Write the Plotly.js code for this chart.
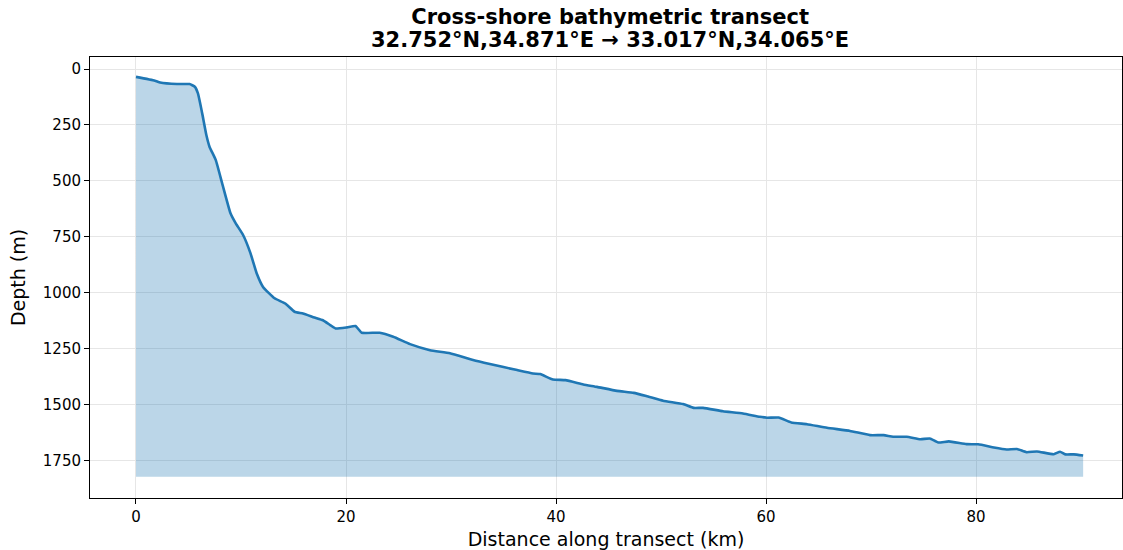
<!DOCTYPE html>
<html>
<head>
<meta charset="utf-8">
<script src="https://cdn.plot.ly/plotly-3.0.1.min.js"></script>
<style>html,body{margin:0;padding:0;background:#fff;}#chart{width:1123px;height:550px;}</style>
</head>
<body>
<div id="chart"></div>
<script>
const distanceKm = [0, 1.8, 2.3, 3.9, 5.1, 5.6, 5.9, 6.3, 6.7, 7.0, 7.6, 8.2, 9.0, 9.5, 10.2, 10.9, 11.5, 12.1, 13.2, 14.2, 15.1, 15.9, 17.0, 17.8, 18.5, 19.0, 20.1, 20.9, 21.5, 23.2, 24.5, 26.1, 28.0, 29.9, 32.1, 33.7, 36.3, 37.8, 38.5, 39.7, 40.9, 42.6, 43.9, 45.8, 47.4, 48.6, 50.2, 52.1, 53.1, 54.0, 55.9, 57.8, 59.4, 60.1, 61.2, 62.4, 63.9, 65.8, 68.0, 69.9, 71.2, 72.1, 73.4, 74.7, 75.6, 76.4, 77.4, 79.1, 80.2, 81.7, 82.9, 83.9, 84.8, 85.8, 87.4, 88.0, 88.5, 89.3, 90.2];
const depthM = [35, 52, 60, 67, 67, 79, 109, 197, 295, 347, 407, 510, 645, 690, 742, 823, 914, 974, 1025, 1048, 1085, 1093, 1111, 1123, 1145, 1160, 1155, 1149, 1179, 1179, 1197, 1230, 1257, 1271, 1301, 1319, 1346, 1361, 1364, 1388, 1391, 1410, 1421, 1439, 1448, 1462, 1483, 1498, 1515, 1515, 1530, 1540, 1555, 1559, 1558, 1580, 1588, 1604, 1618, 1637, 1637, 1644, 1644, 1655, 1652, 1670, 1665, 1677, 1678, 1692, 1701, 1699, 1713, 1710, 1722, 1711, 1723, 1723, 1728];
const fillBaseDepth = 1823;
const xTicks = [0, 20, 40, 60, 80];
const yTicks = [0, 250, 500, 750, 1000, 1250, 1500, 1750];

const titleLine1 = 'Cross-shore bathymetric transect';
const titleLine2 = '32.752°N,34.871°E → 33.017°N,34.065°E';

const baseTrace = {
  x: distanceKm,
  y: distanceKm.map(() => fillBaseDepth),
  mode: 'lines',
  line: {width: 0, color: 'rgba(0,0,0,0)'},
  hoverinfo: 'skip',
  showlegend: false
};
const depthTrace = {
  x: distanceKm,
  y: depthM,
  mode: 'lines',
  fill: 'tonexty',
  fillcolor: 'rgba(31,119,180,0.3)',
  line: {color: '#1f77b4', width: 2.6, shape: 'spline', smoothing: 0.4},
  showlegend: false
};

const titleFont = {family: 'DejaVu Sans', size: 21, color: '#000', weight: 'bold'};
const layout = {
  width: 1123, height: 550,
  margin: {l: 90, r: 1, t: 57, b: 52},
  paper_bgcolor: '#fff', plot_bgcolor: '#fff',
  font: {family: 'DejaVu Sans', size: 15, color: '#000'},
  title: {
    text: '<b>' + titleLine1 + '</b>',
    font: titleFont,
    xref: 'paper', x: 0.504, xanchor: 'center',
    yref: 'container', y: 1 - 17 / 550, yanchor: 'middle'
  },
  annotations: [{
    text: '<b>' + titleLine2 + '</b>',
    font: titleFont,
    xref: 'paper', x: 0.504, xanchor: 'center',
    yref: 'paper', y: 1 + 17 / 441, yanchor: 'middle',
    showarrow: false
  }],
  xaxis: {
    range: [-4.38, 93.9],
    tickvals: xTicks,
    ticktext: xTicks.map(String),
    ticks: 'outside', ticklen: 5, tickwidth: 1, tickcolor: '#000',
    showline: true, linecolor: '#000', linewidth: 1, mirror: true,
    showgrid: true, gridcolor: '#e6e6e6', gridwidth: 1,
    zeroline: false,
    tickfont: {family: 'DejaVu Sans', size: 15, color: '#000'},
    title: {text: 'Distance along transect (km)', font: {family: 'DejaVu Sans', size: 19, color: '#000'}, standoff: 9}
  },
  yaxis: {
    range: [1918, -54],
    tickvals: yTicks,
    ticktext: yTicks.map(String),
    ticks: 'outside', ticklen: 5, tickwidth: 1, tickcolor: '#000',
    showline: true, linecolor: '#000', linewidth: 1, mirror: true,
    showgrid: true, gridcolor: '#e6e6e6', gridwidth: 1,
    zeroline: false,
    tickfont: {family: 'DejaVu Sans', size: 15, color: '#000'},
    title: {text: 'Depth (m)', font: {family: 'DejaVu Sans', size: 19, color: '#000'}, standoff: 12}
  }
};

Plotly.newPlot('chart', [baseTrace, depthTrace], layout, {displayModeBar: false, staticPlot: true});
</script>
</body>
</html>
